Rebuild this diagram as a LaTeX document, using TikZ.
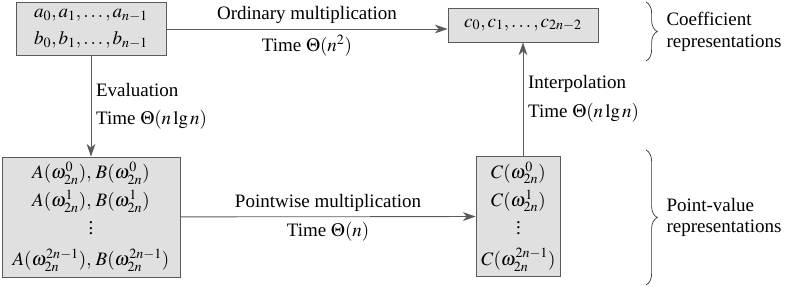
\documentclass[tikz,border=0pt]{standalone}
\usepackage{mathptmx}
\usepackage[no-math]{fontspec}
\setmainfont{Liberation Serif}
\usepackage{tikz}
\usetikzlibrary{arrows.meta, positioning, decorations.pathreplacing}
\definecolor{boxgray}{RGB}{224,224,224}
\definecolor{linegray}{RGB}{90,90,90}

\begin{document}
\begin{tikzpicture}[
    x=0.025cm, y=-0.025cm,
    every node/.style={font=\fontsize{13.5}{15.5}\selectfont},
    repbox/.style={rectangle, draw=linegray, fill=boxgray, line width=0.6pt,
                   align=center, font=\fontsize{13.5}{19}\selectfont},
    arrow/.style={-{Stealth[length=3.2mm, width=2.2mm, inset=1mm]}, draw=linegray, line width=0.6pt},
    brace/.style={decorate, decoration={brace, amplitude=8pt}, draw=black!80, line width=0.5pt}
]
\useasboundingbox (0,0) rectangle (790,287);

\node (coefab) [repbox, minimum width=3.75cm, minimum height=1.33cm] at (91,29)
    {$a_0, a_1, \ldots, a_{n-1}$\\$b_0, b_1, \ldots, b_{n-1}$};
\node (coefc) [repbox, minimum width=3.75cm, minimum height=0.85cm] at (523,25)
    {$c_0, c_1, \ldots, c_{2n-2}$};
\node (pointab) [repbox, minimum width=4.45cm, minimum height=3cm, font=\fontsize{13.5}{20}\selectfont] at (91,217)
    {$A(\omega_{2n}^0),\, B(\omega_{2n}^0)$\\$A(\omega_{2n}^1),\, B(\omega_{2n}^1)$\\$\vdots$\\[2pt]$A(\omega_{2n}^{2n-1}),\, B(\omega_{2n}^{2n-1})$};
\node (pointc) [repbox, minimum width=2.12cm, minimum height=3.02cm, font=\fontsize{13.5}{20}\selectfont] at (518.5,216.5)
    {$C(\omega_{2n}^0)$\\$C(\omega_{2n}^1)$\\$\vdots$\\[2pt]$C(\omega_{2n}^{2n-1})$};

\draw [arrow] (coefab.east) -- node[above] {Ordinary multiplication}
    node[below=1pt] {Time $\Theta(n^2)$} (coefab.east -| coefc.west);
\draw [arrow] (coefab) -- node[right, align=left] {Evaluation\\[5pt]Time $\Theta(n\lg n)$} (pointab);
\draw [arrow] (pointab) -- node[above] {Pointwise multiplication}
    node[below] {Time $\Theta(n)$} (pointc);
\draw [arrow] (coefc.south |- pointc.north) -- node[right, align=left] {Interpolation\\[5pt]Time $\Theta(n\lg n)$} (coefc.south);

% representation braces
\coordinate (bracetop) at (646,2);
\coordinate (bracemid) at (646,61);
\coordinate (bracelow) at (646,150);
\coordinate (bracebot) at (646,285);
\draw [brace] (bracetop) -- node[right=11pt, align=left] {Coefficient\\representations} (bracemid);
\draw [brace] (bracelow) -- node[right=11pt, align=left] {Point-value\\representations} (bracebot);

\end{tikzpicture}
\end{document}
